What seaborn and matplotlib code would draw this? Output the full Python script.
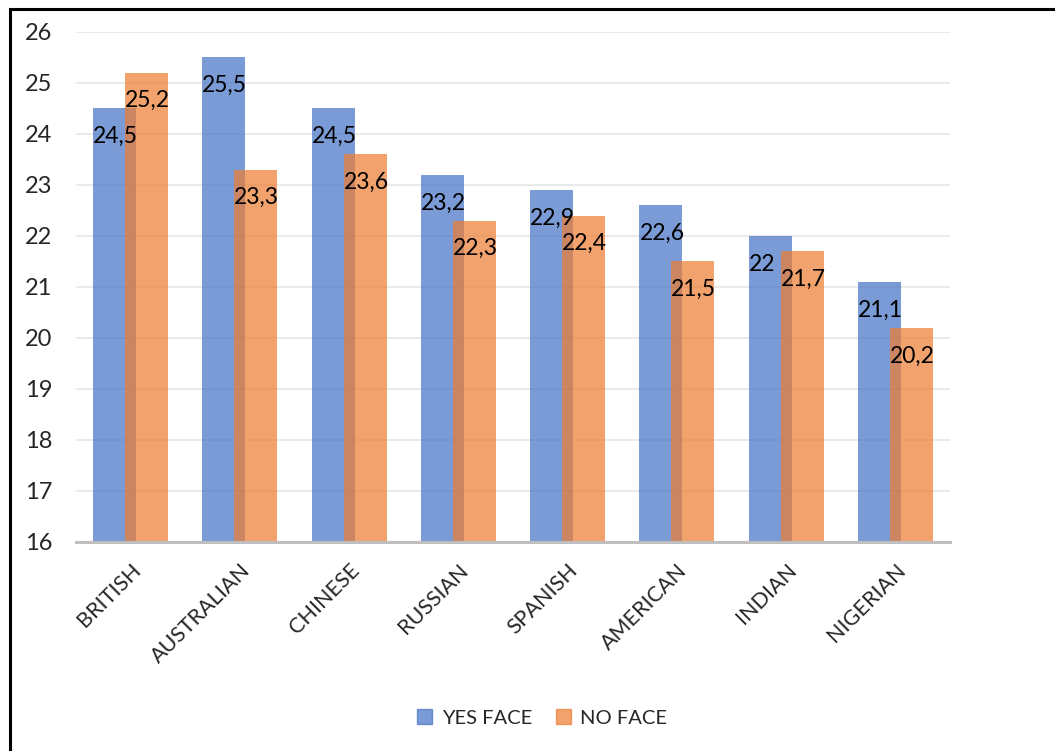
import matplotlib
import matplotlib.patches as mpatches
import pandas as pd
import seaborn as sns
from matplotlib import pyplot as plt

categories = ["BRITISH", "AUSTRALIAN", "CHINESE", "RUSSIAN", "SPANISH", "AMERICAN", "INDIAN", "NIGERIAN"]
yes_face = [24.5, 25.5, 24.5, 23.2, 22.9, 22.6, 22.0, 21.1]
no_face = [25.2, 23.3, 23.6, 22.3, 22.4, 21.5, 21.7, 20.2]
series = ["YES FACE", "NO FACE"]
colors = ["#4472C4", "#ED7D31"]

sns.set_style("white")
matplotlib.rcParams["font.family"] = ["Lato", "DejaVu Sans"]

df = pd.DataFrame(
    {
        "group": categories * 2,
        "series": [series[0]] * len(categories) + [series[1]] * len(categories),
        "value": yes_face + no_face,
    }
)

fig = plt.figure(figsize=(10.55, 7.51), dpi=100)
ax = fig.add_axes([0.072, 0.2783, 0.8285, 0.6791])

sns.barplot(
    data=df, x="group", y="value", hue="series", palette=colors,
    order=categories, hue_order=series, width=0.585, ax=ax, saturation=1,
    alpha=0.71, linewidth=0, legend=False, errorbar=None,
)

# widen the dodged bars so they overlap like the Excel original
bar_width = 0.394
for p in ax.patches:
    cx = p.get_x() + p.get_width() / 2
    p.set_width(bar_width)
    p.set_x(cx - bar_width / 2)
    p.set_y(16)
    p.set_height(p.get_height() - 16)

# data labels, top-left inside each bar
for p in ax.patches:
    top = p.get_y() + p.get_height()
    ax.text(p.get_x(), top - 0.55, f"{top:.1f}".replace(".0", "").replace(".", ","),
            ha="left", va="center", fontsize=16.5, color="black")

ax.set_ylim(16, 26)
ax.set_xlim(-0.5, len(categories) - 0.5)
ax.set_yticks(range(16, 27))
ax.yaxis.grid(True, color="#E6E6E6", linewidth=1.2)
ax.set_axisbelow(True)
for s in ["top", "right", "left"]:
    ax.spines[s].set_visible(False)
ax.spines["bottom"].set_color("#BFBFBF")
ax.spines["bottom"].set_linewidth(2.2)
ax.tick_params(axis="y", length=0, pad=17, labelsize=17)
ax.tick_params(axis="x", length=0, pad=13, labelsize=15.5)
plt.setp(ax.get_xticklabels(), rotation=45, ha="right", rotation_mode="anchor")
ax.set_xlabel("")
ax.set_ylabel("")

handles = [mpatches.Patch(color=c, alpha=0.71, label=l) for c, l in zip(colors, series)]
fig.legend(handles=handles, loc="center", bbox_to_anchor=(0.514, 0.044), ncol=2,
           frameon=False, fontsize=14.5, handlelength=0.75, handleheight=0.75,
           handletextpad=0.45, columnspacing=1.2)

# black outer frame (left and top edges visible)
fig.patches.append(mpatches.Rectangle((0.0095, -0.05), 1.2, 1.05 - 0.0115,
                                      transform=fig.transFigure, fill=False,
                                      edgecolor="black", linewidth=2.2))

fig.savefig("out.png", dpi=100)
